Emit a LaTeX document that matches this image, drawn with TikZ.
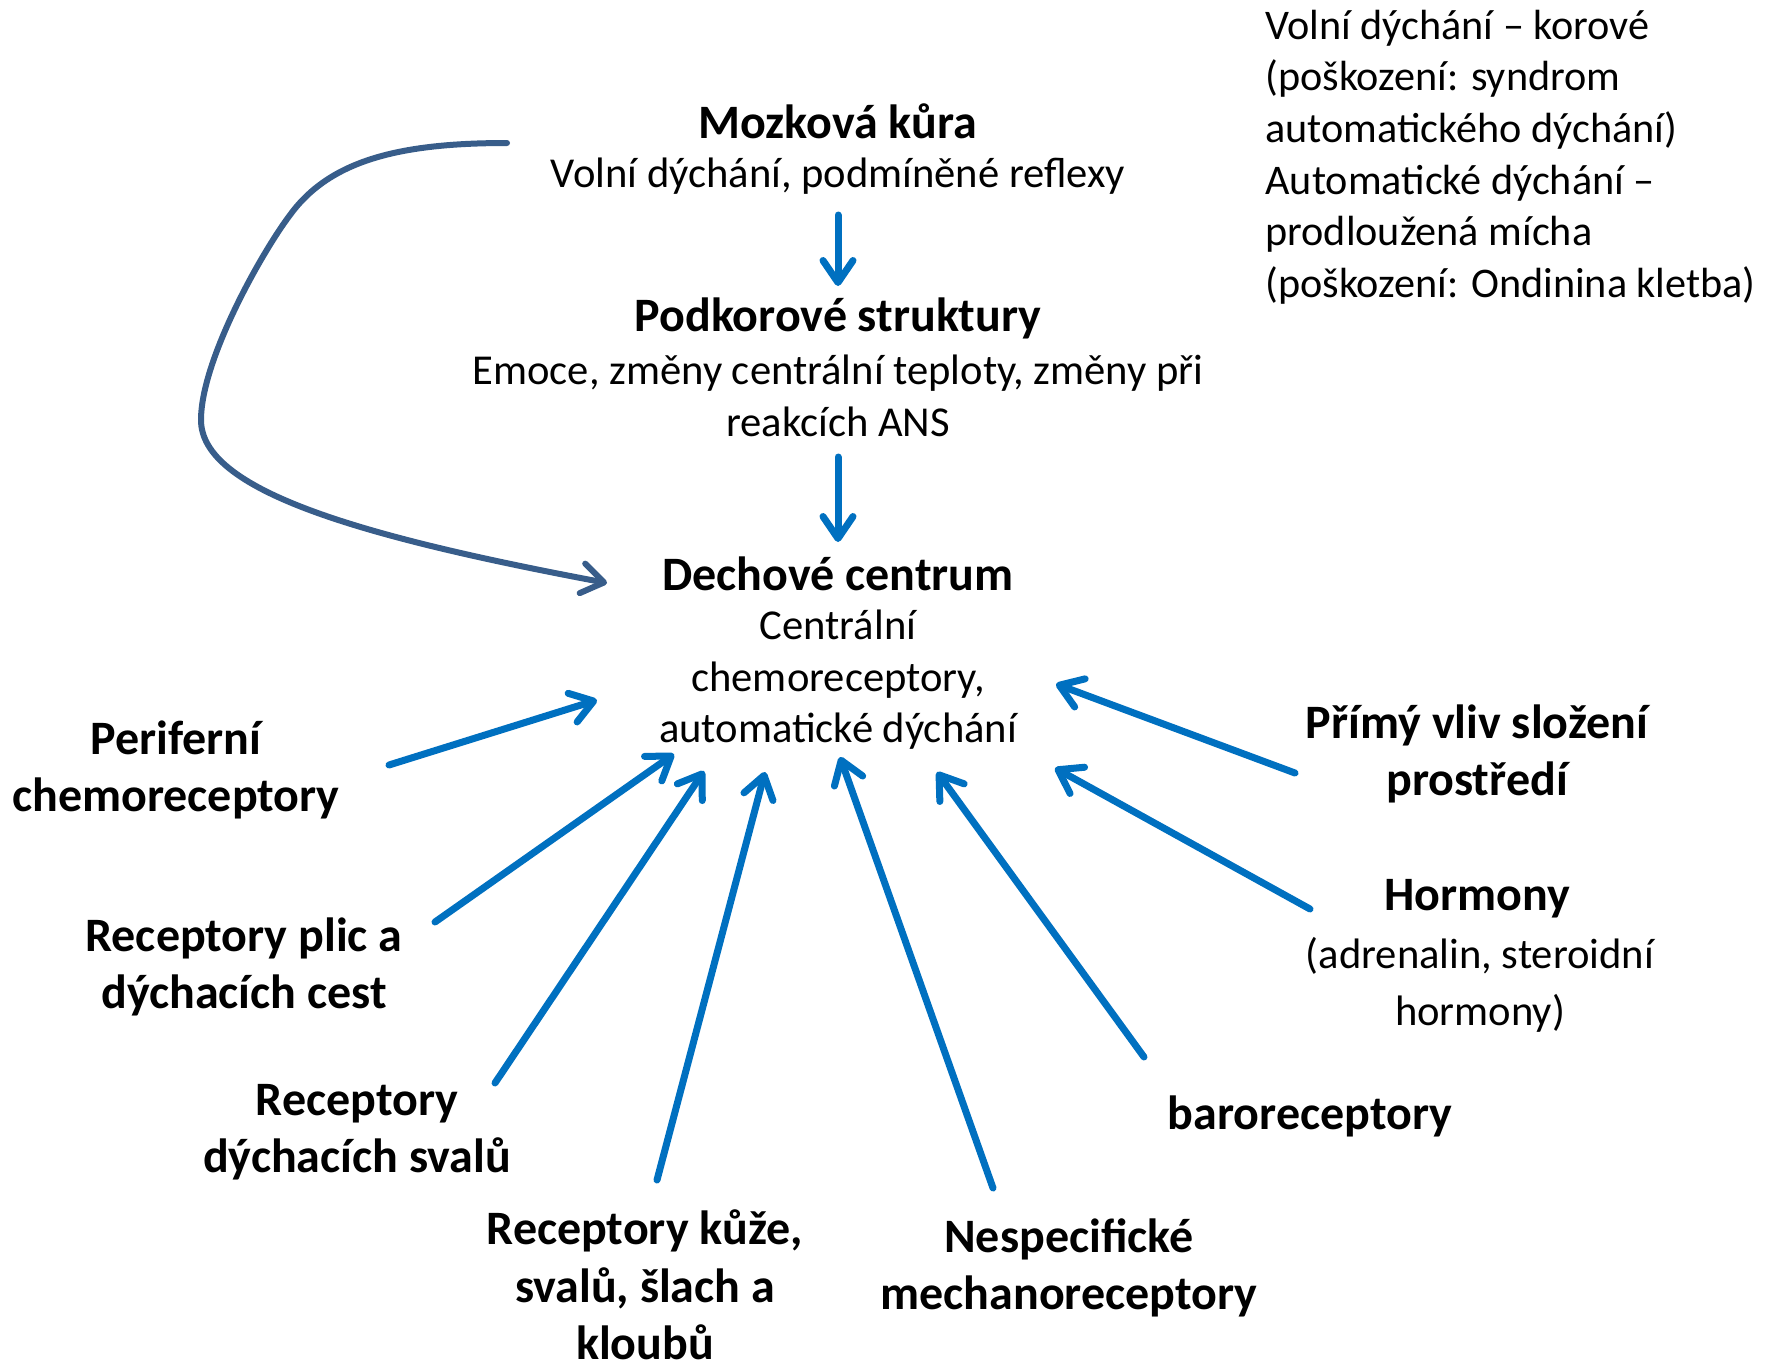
\documentclass[tikz,border=0pt]{standalone}
\usepackage{fontspec}
\setmainfont{Carlito}
\usetikzlibrary{arrows.meta}
\definecolor{arrblue}{HTML}{0070C0}
\definecolor{curveblue}{HTML}{385D8A}
\begin{document}
\begin{tikzpicture}[x=0.5pt,y=-0.5pt,
  title/.style={inner sep=0pt, align=center, font=\bfseries\fontsize{24}{28.8}\selectfont},
  body/.style={inner sep=0pt, align=center, font=\fontsize{21.3}{25.7}\selectfont},
  note/.style={inner sep=0pt, align=left, anchor=west, font=\fontsize{21.1}{25.8}\selectfont},
  tipb/.style={-{Straight Barb[length=11pt,width=15pt,round]}},
  inarrow/.style={draw=arrblue, line width=3.5pt, line cap=round, tipb},
  curvearrow/.style={draw=curveblue, line width=3pt, line cap=round, tipb}]
\useasboundingbox (0,0) rectangle (1772,1367);

% central column
\node[title] (mk) at (838,121) {Mozková kůra};
\node[body] (mkb) at (838,176) {Volní dýchání, podmíněné reflexy};
\node[title] (ps) at (838,318) {Podkorové struktury};
\node[body] (psb) at (838,396) {Emoce, změny centrální teploty, změny při\\reakcích ANS};
\node[title] (dc) at (838,574) {Dechové centrum};
\node[body] (dcb) at (838,680) {Centrální\\chemoreceptory,\\automatické dýchání};

% note
\node[note] (nt) at (1265,157) {Volní dýchání – korové\\(poškození: syndrom\\automatického dýchání)\\Automatické dýchání –\\prodloužená mícha\\(poškození: Ondinina kletba)};

% labels
\node[title] (pc) at (176,770) {Periferní\\chemoreceptory};
\node[title] (rp) at (244,967) {Receptory plic a\\dýchacích cest};
\node[title] (rs) at (357,1132) {Receptory\\dýchacích svalů};
\node[title] (rk) at (645,1285) {Receptory kůže,\\svalů, šlach a\\kloubů};
\node[title] (nm) at (1069,1268) {Nespecifické\\mechanoreceptory};
\node[title] (br) at (1310,1116) {baroreceptory};
\node[title] (hm) at (1477,899) {Hormony};
\node[body, font=\fontsize{21.3}{28.3}\selectfont] (hmb) at (1480,985) {(adrenalin, steroidní\\hormony)};
\node[title] (pv) at (1477,754) {Přímý vliv složení\\prostředí};

% vertical arrows
\coordinate (a1s) at (838,215); \coordinate (a1e) at (838,286);
\coordinate (a2s) at (838,457); \coordinate (a2e) at (838,542);
\draw[inarrow] (a1s) -- (a1e);
\draw[inarrow] (a2s) -- (a2e);

% incoming arrows
\coordinate (pcs) at (389,765);  \coordinate (pce) at (597,700);
\coordinate (rps) at (435,922);  \coordinate (rpe) at (674,754);
\coordinate (rss) at (495,1083); \coordinate (rse) at (704,771);
\coordinate (rks) at (657,1180); \coordinate (rke) at (765,772);
\coordinate (nms) at (993,1188); \coordinate (nme) at (840,757);
\coordinate (brs) at (1144,1057);\coordinate (bre) at (937,772);
\coordinate (hms) at (1310,909); \coordinate (hme) at (1055,768);
\coordinate (pvs) at (1295,773); \coordinate (pve) at (1056,684);
\foreach \n in {pc,rp,rs,rk,nm,br,hm,pv}{
  \draw[inarrow] (\n s) -- (\n e);
}

% curved arrow
\coordinate (cs) at (507,143);
\coordinate (cp) at (290,215);
\coordinate (cl) at (201,420);
\coordinate (ct) at (607,583);
\draw[curvearrow] (cs) .. controls (400,143) and (330,160) .. (cp)
  .. controls (262,252) and (201,360) .. (cl)
  .. controls (201,490) and (357,536) .. (ct);
\end{tikzpicture}
\end{document}
